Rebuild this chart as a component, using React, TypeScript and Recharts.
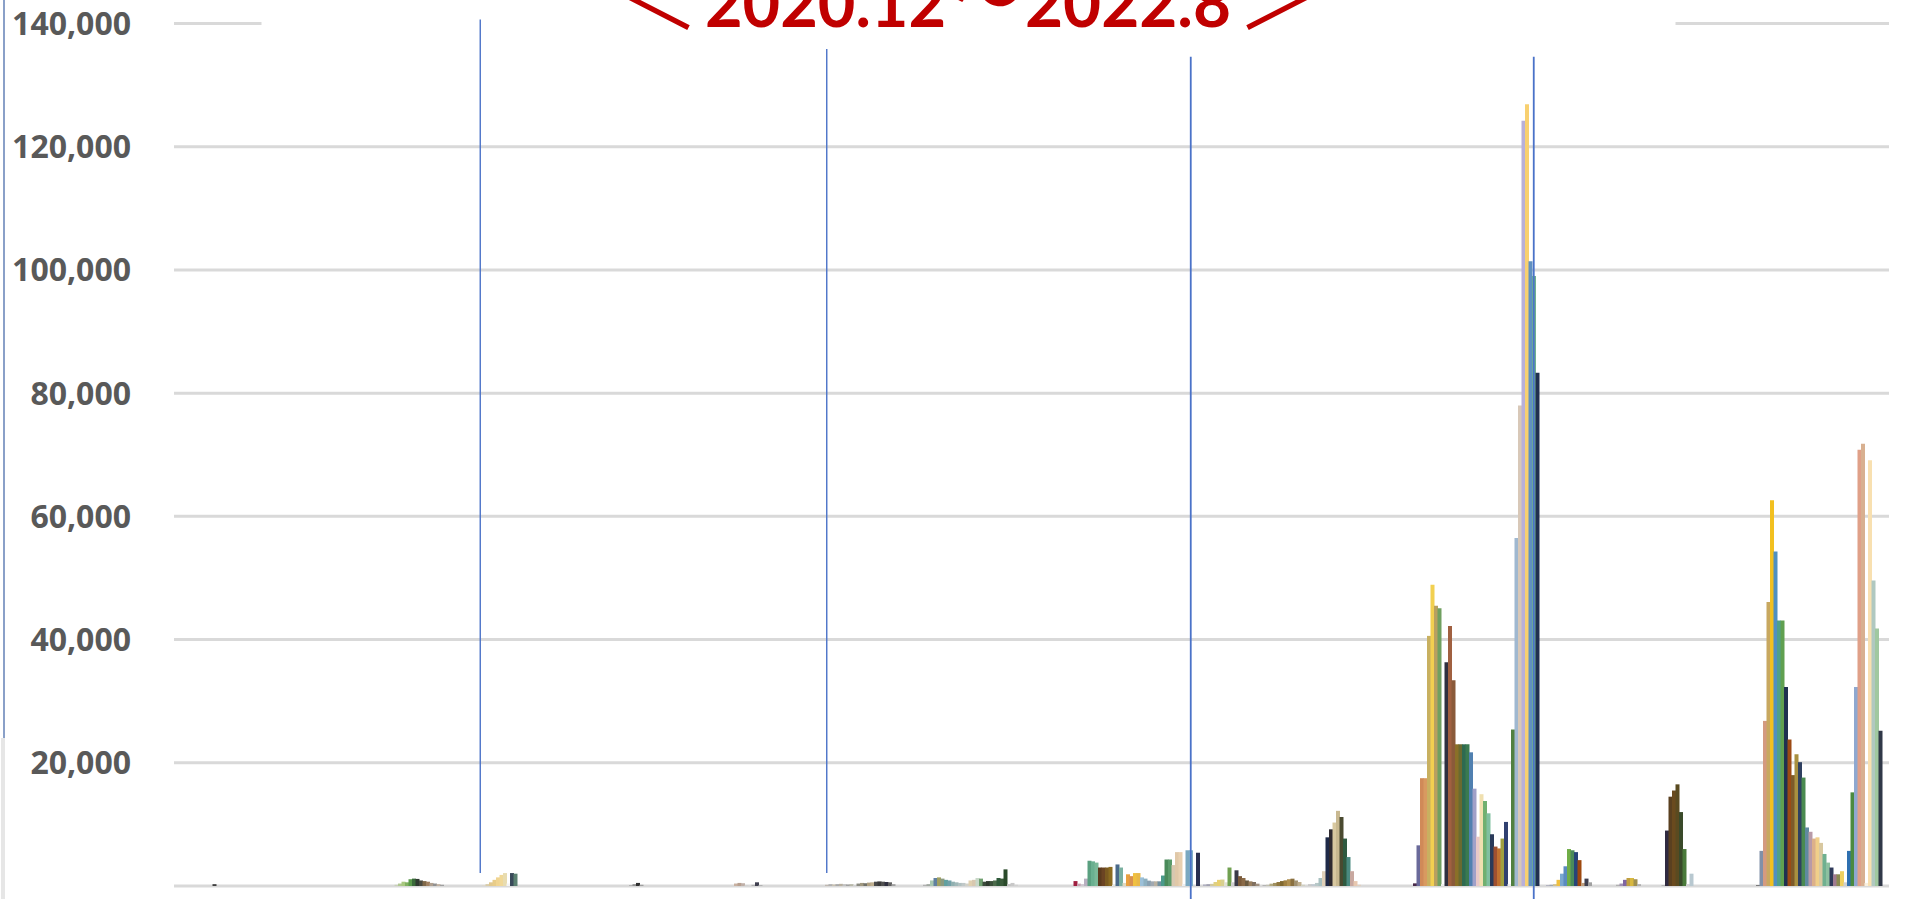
import React from 'react';
import { BarChart, Bar, Cell, XAxis, YAxis, CartesianGrid, ReferenceLine } from 'recharts';

// ---------- data ----------
const slotCount = 490;
const yTicks = [0, 20000, 40000, 60000, 80000, 100000, 120000, 140000];
const gridValues = [0, 20000, 40000, 60000, 80000, 100000, 120000];

const startA = 11;
const valuesA = [300];
const colorsA = ['#404040'];

const startB = 63;
const valuesB = [200, 400, 700, 600, 1100, 1200, 1150, 900, 800, 700, 500, 400, 300, 200];
const colorsB = ['#c8d0b8', '#b0c890', '#a8c880', '#80b060', '#5a9a4a', '#3a6a3a', '#2f3a30', '#4a4a40', '#806848', '#a08060', '#b0a090', '#909090', '#c0b0a0', '#a0a0a0'];

const startC = 88;
const valuesC = [100, 300, 600, 1000, 1400, 1800, 2100, 400, 2100, 2000];
const colorsC = ['#e0d8c8', '#d8cca8', '#e0c890', '#e8cc88', '#f0d490', '#f0d898', '#e8dcb0', '#f4f4f4', '#3a4a5a', '#5a8070'];

const startD = 130;
const valuesD = [150, 300, 500, 200];
const colorsD = ['#b0b0b0', '#909090', '#303030', '#a0a0a0'];

const startE = 160;
const valuesE = [400, 500, 450, 100, 0, 200, 600, 150];
const colorsE = ['#c8b0a0', '#b8a090', '#c0b0a8', '#d0d0d0', '#ffffff', '#b0b0b0', '#404050', '#b0b0b0'];

const startF = 186;
const valuesF = [200, 300, 250, 300, 350, 300, 250, 300, 150, 400, 500, 450, 550, 600, 700, 750, 700, 650, 600, 300];
const colorsF = ['#c0b8b0', '#b0b0b0', '#c8c0b0', '#a8a8a8', '#b8b0a0', '#c0c0c0', '#a0a0a0', '#b8b8a8', '#d0d0d0', '#8a8a80', '#a09880', '#707068', '#b0a080', '#c0b090', '#4a4a4a', '#3a3a3a', '#505050', '#303040', '#606060', '#a0a0a0'];

const startG = 214;
const valuesG = [200, 300, 900, 1300, 1400, 1200, 1000, 900, 700, 600, 500, 500, 400, 900, 1000, 1300, 1200, 700, 800, 800, 900, 1300, 1200, 2700, 300, 500, 200];
const colorsG = ['#b0b0b0', '#a0a8a0', '#a8c8b0', '#6080a0', '#a0a060', '#8a9a80', '#60a0a0', '#70a0a8', '#90b0b0', '#a0b8b8', '#b0c0c0', '#c0c8c8', '#d0d0c8', '#e0d0b0', '#d8c8b0', '#c8d8c8', '#70a070', '#3a4a3a', '#2f3a2f', '#3a503a', '#4a6a4a', '#2f5a3a', '#3a5a3a', '#2a4a2a', '#c0c0c0', '#c8c8c8', '#d0d0d0'];

const startH = 257;
const valuesH = [800, 380, 300, 1200, 4100, 4000, 3800, 3000, 3000, 3000, 3100, 200, 3500, 3000, 500, 1900, 1600, 2100, 2100, 1400, 1200, 870, 760, 760, 760, 1700, 4300, 4300, 3400, 5500, 5500, 300, 5800, 5800, 0, 5400];
const colorsH = ['#a02040', '#c8a0b0', '#d0c8d0', '#b8b0c0', '#5aa080', '#6ab090', '#7ab898', '#5a3a1e', '#6b4423', '#7a5a20', '#8b6b20', '#e8e8e0', '#4a6a8a', '#7ab0a0', '#e0d8c0', '#e8a040', '#d89050', '#f0c040', '#e8b848', '#9cc0d8', '#8db0c0', '#88a0b0', '#a0a8b0', '#b8b0a0', '#7090a0', '#4a9a8a', '#4a8a5a', '#5a9a6a', '#d8c8b0', '#e0c8a8', '#e8d0b0', '#f0f0f0', '#7aa8c0', '#80b0c8', '#ffffff', '#2a3050'];

const startI = 294;
const valuesI = [250, 300, 350, 650, 1000, 1050, 600, 3000, 600, 2550, 1600, 1300, 900, 760, 650, 380, 0, 150];
const colorsI = ['#b0b0c0', '#a0a0b0', '#d0c8a0', '#e0d080', '#e8d070', '#d8d090', '#e0e0d0', '#70a050', '#d0d0d0', '#3a3a48', '#7a5a3a', '#8a6a48', '#6a5a40', '#9a8060', '#807060', '#a09080', '#ffffff', '#b0b0b0'];

const startJ = 312;
const valuesJ = [200, 380, 500, 650, 800, 920, 1100, 1190, 900, 650, 200];
const colorsJ = ['#c0c0b0', '#b0a880', '#a09060', '#907840', '#806830', '#a08040', '#b09050', '#8a7040', '#a09070', '#c0b090', '#d0d0c0'];

const startK = 324;
const valuesK = [300, 300, 500, 1300, 2400, 7900, 9200, 10300, 12200, 11200, 7700, 4700, 2400, 800, 200];
const colorsK = ['#c8c8c8', '#c0c8d0', '#b8c8c8', '#a8c0c0', '#e0d0b8', '#1f2a48', '#2f2a30', '#d8c8a0', '#c8b890', '#4a4a30', '#2f5a40', '#4a8a80', '#c8a8a0', '#e8c8b0', '#e0d0c0'];

const startL = 354;
const valuesL = [430, 6600, 17500, 17500, 40600, 48900, 45500, 45100, 300, 36300, 42200, 33400, 23000, 23000, 23000, 23000, 21700, 15800, 8000, 14900, 13800, 11800, 8400, 6400, 6100, 7700, 10400, 300, 25400, 56500, 78000, 124200, 126900, 101400, 99000, 83300];
const colorsL = ['#4a2a4a', '#6a6a9a', '#d08a58', '#d89a60', '#c8b060', '#f2d050', '#b8a060', '#70a060', '#f0f0f0', '#2f3040', '#a06040', '#8a5a3a', '#8a7028', '#6a6a30', '#2e6a50', '#3a7a50', '#5080b0', '#a0a0c8', '#e8c8c8', '#f0e0b0', '#70b070', '#80c0a0', '#2a3a5a', '#a05030', '#c07030', '#a0a040', '#304070', '#f0f0f0', '#508040', '#a0b8d0', '#d8c8b8', '#b8b0d8', '#f8d070', '#6090c0', '#70b090', '#203050'];

const startM = 392;
const valuesM = [150, 200, 300, 1000, 2000, 3200, 6000, 5800, 5500, 4200, 500, 1200, 600];
const colorsM = ['#b0b0c0', '#a0a8b0', '#d0c090', '#f0c040', '#7aa8d0', '#5b8bc0', '#70ad47', '#4a8a5a', '#264478', '#9e480e', '#c0a080', '#404050', '#a0a0a0'];

const startN = 412;
const valuesN = [200, 400, 1000, 1300, 1300, 1100, 300];
const colorsN = ['#b0b0b0', '#a090b0', '#8064a2', '#c0a040', '#d8b840', '#a09050', '#b0b0b0'];

const startO = 425;
const valuesO = [100, 9000, 14500, 15500, 16500, 12000, 6000, 300, 2000];
const colorsO = ['#a0a0a0', '#2f2a40', '#5a4020', '#6a4a1e', '#5a4a20', '#3a4a2a', '#4a7a3a', '#d0d0d0', '#b8c8d0'];

const startP = 452;
const valuesP = [100, 5700, 26800, 46100, 62600, 54300, 43100, 43100, 32300, 23800, 18000, 21400, 20100, 17600, 9500, 8800, 7700, 7900, 7000, 5200, 3800, 3000, 1900, 1900, 2400, 600, 5700, 15200, 32300, 70800, 71800, 500, 69100, 49600, 41800, 25200];
const colorsP = ['#404040', '#8090a8', '#d49a80', '#c8a860', '#f2c020', '#5090c0', '#50a088', '#60a050', '#1f3050', '#9c4a14', '#7d5a2a', '#a89040', '#2f4060', '#4a8a50', '#5f8aa0', '#b89aa8', '#dcb08a', '#f0cf8a', '#d8c8a0', '#6fb090', '#8cc0a0', '#2f3a5a', '#a07a90', '#8a8a50', '#f0d060', '#d0d0d0', '#2f70b0', '#4a8a40', '#8fa8d0', '#e0a088', '#d8b090', '#f8f0e0', '#f8e0b0', '#b0c8c0', '#a0c8a0', '#303848'];

// annotation lines (category slot, top value, bottom value)
const blueLines = [
  { slot: 87, top: 140650, bottom: 2110, w: 1.4 },
  { slot: 186, top: 135860, bottom: 2110, w: 1.4 },
  { slot: 290, top: 134600, bottom: -2110, w: 1.8 },
  { slot: 388, top: 134600, bottom: -2110, w: 1.8 },
];

const clusters = [
  [startA, valuesA, colorsA], [startB, valuesB, colorsB], [startC, valuesC, colorsC],
  [startD, valuesD, colorsD], [startE, valuesE, colorsE], [startF, valuesF, colorsF],
  [startG, valuesG, colorsG], [startH, valuesH, colorsH], [startI, valuesI, colorsI],
  [startJ, valuesJ, colorsJ], [startK, valuesK, colorsK], [startL, valuesL, colorsL],
  [startM, valuesM, colorsM], [startN, valuesN, colorsN], [startO, valuesO, colorsO],
  [startP, valuesP, colorsP],
] as [number, number[], string[]][];

const data: { slot: number; v: number; c: string }[] = [];
for (let i = 0; i < slotCount; i++) data.push({ slot: i, v: 0, c: '#ffffff' });
clusters.forEach(([start, vals, cols]) => {
  vals.forEach((v, k) => {
    data[start + k].v = v;
    data[start + k].c = cols[k % cols.length];
  });
});

const fmt = (v: number) => v.toLocaleString('en-US');

export default function App() {
  return (
    <div style={{ position: 'absolute', left: 0, top: 0, width: 1907, height: 899, background: '#ffffff', overflow: 'hidden' }}>
      <BarChart
        width={1907}
        height={899}
        data={data}
        margin={{ top: 23.5, right: 18, bottom: 13, left: 0 }}
        barCategoryGap={0}
        barGap={0}
      >
        <CartesianGrid vertical={false} horizontalValues={gridValues} stroke="#d9d9d9" strokeWidth={3} />
        <XAxis dataKey="slot" type="category" hide />
        <YAxis
          type="number"
          domain={[0, 140000]}
          ticks={yTicks}
          tickFormatter={fmt}
          width={174}
          axisLine={false}
          tickLine={false}
          tickSize={0}
          tickMargin={43}
          tick={{ fill: '#595959', fontFamily: 'Open Sans', fontWeight: 700, fontSize: 32 }}
        />
        <ReferenceLine segment={[{ x: 0, y: 140000 }, { x: 25, y: 140000 }]} position="start" stroke="#d9d9d9" strokeWidth={3} ifOverflow="visible" />
        <ReferenceLine segment={[{ x: 428, y: 140000 }, { x: 489, y: 140000 }]} position="end" stroke="#d9d9d9" strokeWidth={3} ifOverflow="visible" />
        <Bar dataKey="v" isAnimationActive={false}>
          {data.map((d) => (
            <Cell key={d.slot} fill={d.c} />
          ))}
        </Bar>
        {blueLines.map((l) => (
          <ReferenceLine
            key={l.slot}
            segment={[{ x: l.slot, y: l.top }, { x: l.slot, y: l.bottom }]}
            stroke="#4a72c8"
            strokeWidth={l.w}
            ifOverflow="visible"
          />
        ))}
      </BarChart>
      <div style={{ position: 'absolute', left: 3, top: 0, width: 2, height: 738, background: '#8aa0c8' }} />
      <div style={{ position: 'absolute', left: 1, top: 738, width: 4, height: 161, background: '#e6e6e6' }} />
      <svg width={1907} height={60} style={{ position: 'absolute', left: 0, top: 0, pointerEvents: 'none' }}>
        <text x={619} y={29} fontFamily="Noto Sans CJK JP" fontWeight={400} fontSize={80} fill="#c00000">＜</text>
        <text x={705} y={27} textLength={241} lengthAdjust="spacingAndGlyphs" fontFamily="Lato" fontWeight={700} fontSize={66} fill="#c00000">2020.12</text>
        <text x={952} y={21} textLength={70} lengthAdjust="spacingAndGlyphs" fontFamily="Noto Sans CJK JP" fontWeight={700} fontSize={66} fill="#c00000">～</text>
        <text x={1025} y={27} textLength={206} lengthAdjust="spacingAndGlyphs" fontFamily="Lato" fontWeight={700} fontSize={66} fill="#c00000">2022.8</text>
        <text x={1237} y={29} fontFamily="Noto Sans CJK JP" fontWeight={400} fontSize={80} fill="#c00000">＞</text>
      </svg>
    </div>
  );
}
